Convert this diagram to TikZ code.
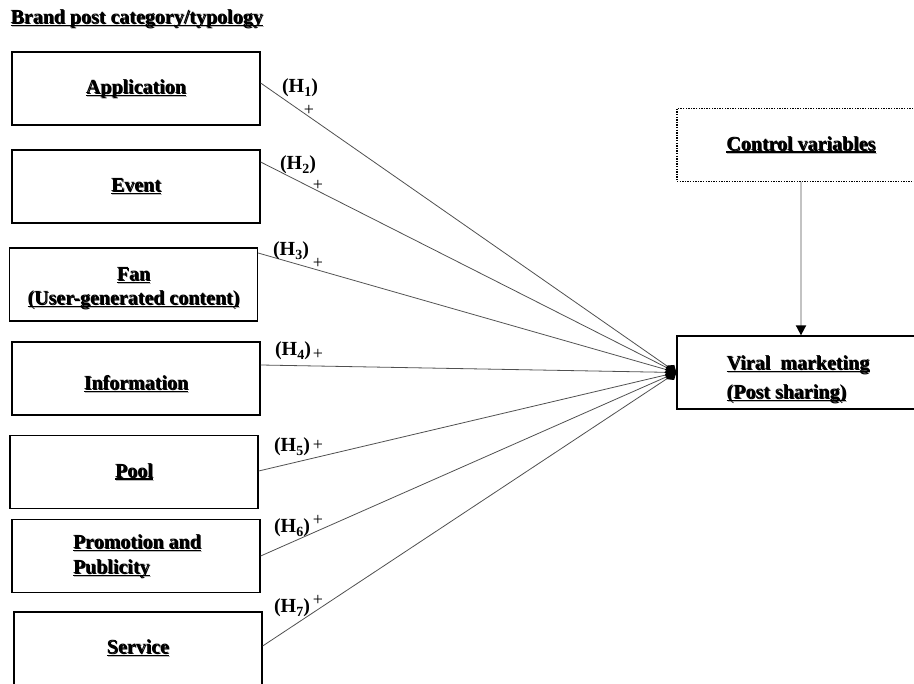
\documentclass[tikz,border=0pt]{standalone}
\usepackage{fontspec}
\setmainfont{Liberation Serif}
\usepackage{tikz}
\usetikzlibrary{positioning,arrows.meta}
\definecolor{linegray}{RGB}{80,80,80}
\definecolor{shadowgray}{RGB}{185,185,185}
\definecolor{arrowgray}{RGB}{195,195,195}

\newsavebox\ulbox
\newcommand\ultext[1]{\leavevmode\sbox\ulbox{#1}%
  \rlap{\color{shadowgray}\kern1pt\raisebox{-1pt}[0pt][0pt]{\usebox\ulbox}}%
  \rlap{\color{shadowgray}\kern1pt\rule[-3.6pt]{\wd\ulbox}{1.2pt}}%
  \rlap{\rule[-2.6pt]{\wd\ulbox}{1.3pt}}%
  \usebox\ulbox}
\newcommand\hsub[1]{\raisebox{-4pt}{\fontsize{14}{14}\selectfont #1}}
\newcommand\dropby[2]{\raisebox{-#1}[\height][\depth]{#2}}

\begin{document}
\begin{tikzpicture}[x=1pt,y=-1pt,
  every node/.style={font=\fontsize{20}{24}\selectfont\bfseries},
  catbox/.style={draw,line width=1.3pt,minimum width=248pt,minimum height=73pt,inner sep=0pt,align=center},
  hyp/.style={font=\fontsize{20}{20}\selectfont\bfseries,inner sep=0pt},
  sgn/.style={font=\fontsize{18}{18}\selectfont,inner sep=0pt},
  link/.style={draw=linegray,line width=0.8pt,-{Diamond[color=black,length=12pt,width=10pt]}}]
\useasboundingbox (0,0) rectangle (914,684);

\node[anchor=west] (title) at (7,19) {\ultext{Brand post category/typology}};

\node[catbox] (app) at (136,88.5) {\ultext{Application}};
\node[catbox] (evt) at (136,186.5) {\ultext{Event}};
\node[catbox] (fan) at (133.5,284.5) {\dropby{3pt}{\begin{tabular}{@{}c@{}}\ultext{Fan}\\\ultext{(User-generated content)}\end{tabular}}};
\node[catbox] (info) at (136,378.5) {\dropby{6pt}{\ultext{Information}}};
\node[catbox] (pool) at (134,472) {\ultext{Pool}};
\node[catbox] (promo) at (136,556) {\kern2pt\begin{tabular}{@{}l@{}}\ultext{Promotion and}\\[1pt]\ultext{Publicity}\end{tabular}};
\node[catbox] (serv) at (138,648.5) {\ultext{Service}};

\node[catbox,dash pattern=on 1.4pt off 1.2pt] (ctrl) at (801,145) {\ultext{Control variables}};
\node[catbox] (viral) at (801,372.5) {\dropby{7pt}{\begin{tabular}{@{}l@{}}\ultext{Viral~~marketing}\\[5pt]\ultext{(Post sharing)}\end{tabular}}\kern6pt};

\draw[link] ([yshift=5.5pt]app.east) -- (viral.west);
\draw[link] ([yshift=24.5pt]evt.east) -- (viral.west);
\draw[link] ([yshift=31.5pt]fan.east) -- (viral.west);
\draw[link] ([yshift=13.5pt]info.east) -- (viral.west);
\draw[link] ([yshift=1pt]pool.east) -- (viral.west);
\draw[link] (promo.east) -- (viral.west);
\draw[link] ([yshift=2.5pt]serv.east) -- (viral.west);

\draw[draw=arrowgray,line width=1.8pt,-{Triangle[color=black,length=10pt,width=10pt]}] (ctrl) -- (viral);

\node[hyp] (h1) at (300,88) {(H\hsub{1})};
\node[sgn] (p1) at (309,110) {+};
\node[hyp] (h2) at (298,165) {(H\hsub{2})};
\node[sgn] (p2) at (318,185) {+};
\node[hyp] (h3) at (291,251) {(H\hsub{3})};
\node[sgn] (p3) at (318,263) {+};
\node[hyp] (h4) at (293,351) {(H\hsub{4})};
\node[sgn] (p4) at (318,354) {+};
\node[hyp] (h5) at (292,447) {(H\hsub{5})};
\node[sgn] (p5) at (318,445) {+};
\node[hyp] (h6) at (292,528) {(H\hsub{6})};
\node[sgn] (p6) at (318,520) {+};
\node[hyp] (h7) at (292,608) {(H\hsub{7})};
\node[sgn] (p7) at (318,600) {+};
\end{tikzpicture}
\end{document}
